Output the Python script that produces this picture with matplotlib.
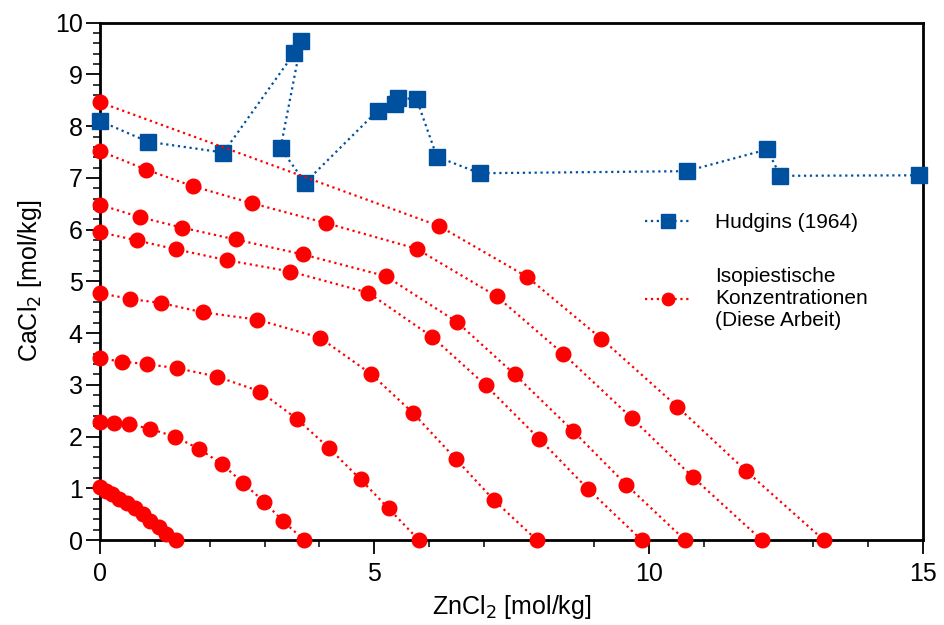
import matplotlib
matplotlib.use("Agg")
import matplotlib.pyplot as plt
from matplotlib.ticker import MultipleLocator

plt.rcParams['font.family'] = ['Liberation Sans', 'DejaVu Sans']

# Hudgins (1964)
hud_x = [0.0, 0.87, 2.25, 3.54, 3.67, 3.29, 3.74, 5.06, 5.37, 5.43, 5.77, 6.14, 6.92, 10.69, 12.16, 12.40, 14.92]
hud_y = [8.10, 7.70, 7.49, 9.41, 9.65, 7.57, 6.91, 8.30, 8.43, 8.55, 8.52, 7.41, 7.09, 7.13, 7.55, 7.04, 7.05]

# Isopiestische Konzentrationen (Diese Arbeit) - one list per isopiestic line
iso_x = [
    [0.0, 0.11, 0.21, 0.35, 0.50, 0.64, 0.78, 0.91, 1.07, 1.21, 1.38],
    [0.0, 0.26, 0.53, 0.91, 1.36, 1.81, 2.23, 2.60, 2.99, 3.33, 3.72],
    [0.0, 0.40, 0.85, 1.41, 2.13, 2.92, 3.59, 4.17, 4.75, 5.26, 5.81],
    [0.0, 0.55, 1.12, 1.88, 2.87, 4.01, 4.94, 5.71, 6.49, 7.18, 7.96],
    [0.0, 0.68, 1.38, 2.31, 3.47, 4.89, 6.05, 7.03, 8.01, 8.89, 9.87],
    [0.0, 0.73, 1.49, 2.47, 3.70, 5.21, 6.50, 7.56, 8.62, 9.59, 10.66],
    [0.0, 0.84, 1.69, 2.77, 4.11, 5.77, 7.23, 8.44, 9.69, 10.80, 12.06],
    [0.0, 6.18, 7.78, 9.14, 10.52, 11.77, 13.19],
]
iso_y = [
    [1.02, 0.95, 0.89, 0.80, 0.71, 0.61, 0.50, 0.37, 0.26, 0.12, 0.0],
    [2.28, 2.27, 2.24, 2.15, 2.00, 1.76, 1.46, 1.11, 0.74, 0.37, 0.0],
    [3.51, 3.45, 3.40, 3.32, 3.16, 2.87, 2.34, 1.78, 1.17, 0.61, 0.0],
    [4.77, 4.66, 4.58, 4.40, 4.26, 3.91, 3.21, 2.45, 1.56, 0.77, 0.0],
    [5.95, 5.79, 5.62, 5.41, 5.19, 4.78, 3.93, 2.99, 1.95, 0.99, 0.0],
    [6.48, 6.24, 6.04, 5.81, 5.52, 5.10, 4.22, 3.20, 2.11, 1.07, 0.0],
    [7.52, 7.16, 6.84, 6.51, 6.13, 5.63, 4.71, 3.60, 2.36, 1.22, 0.0],
    [8.46, 6.07, 5.09, 3.89, 2.58, 1.34, 0.0],
]

blue = '#0050A0'
red = '#FF0000'

fig = plt.figure(figsize=(9.44, 6.25), dpi=100)
ax = fig.add_axes([100/944, 1-540/625, (923-100)/944, (540-22.7)/625])

ax.plot(hud_x, hud_y, linestyle=':', color=blue, lw=1.6, marker='s', ms=11.5,
        mfc=blue, mec=blue, label='Hudgins (1964)', zorder=3, clip_on=False)
for i, (xs, ys) in enumerate(zip(iso_x, iso_y)):
    ax.plot(xs, ys, linestyle=':', color=red, lw=1.6, marker='o', ms=10.5,
            mfc=red, mec=red, clip_on=False, zorder=4,
            label='Isopiestische\nKonzentrationen\n(Diese Arbeit)' if i == 0 else None)

ax.set_xlim(0, 15)
ax.set_ylim(0, 10)
ax.xaxis.set_major_locator(MultipleLocator(5))
ax.xaxis.set_minor_locator(MultipleLocator(1))
ax.yaxis.set_major_locator(MultipleLocator(1))
ax.yaxis.set_minor_locator(MultipleLocator(0.2))
ax.tick_params(which='major', direction='out', length=10, width=1.3, labelsize=18, pad=2.5)
ax.tick_params(which='minor', direction='out', length=5, width=1.1)
ax.tick_params(axis='x', which='major', pad=6)
for s in ax.spines.values():
    s.set_linewidth(2.0)

ax.set_xlabel('ZnCl$_2$ [mol/kg]', fontsize=18, labelpad=5)
ax.set_ylabel('CaCl$_2$ [mol/kg]', fontsize=18, labelpad=8)

leg = ax.legend(loc='upper left', bbox_to_anchor=(0.640, 0.6675), frameon=False,
                fontsize=15, handlelength=2.15, handletextpad=1.2, labelspacing=1.67,
                markerscale=0.85)

fig.savefig('out.png', dpi=100)
